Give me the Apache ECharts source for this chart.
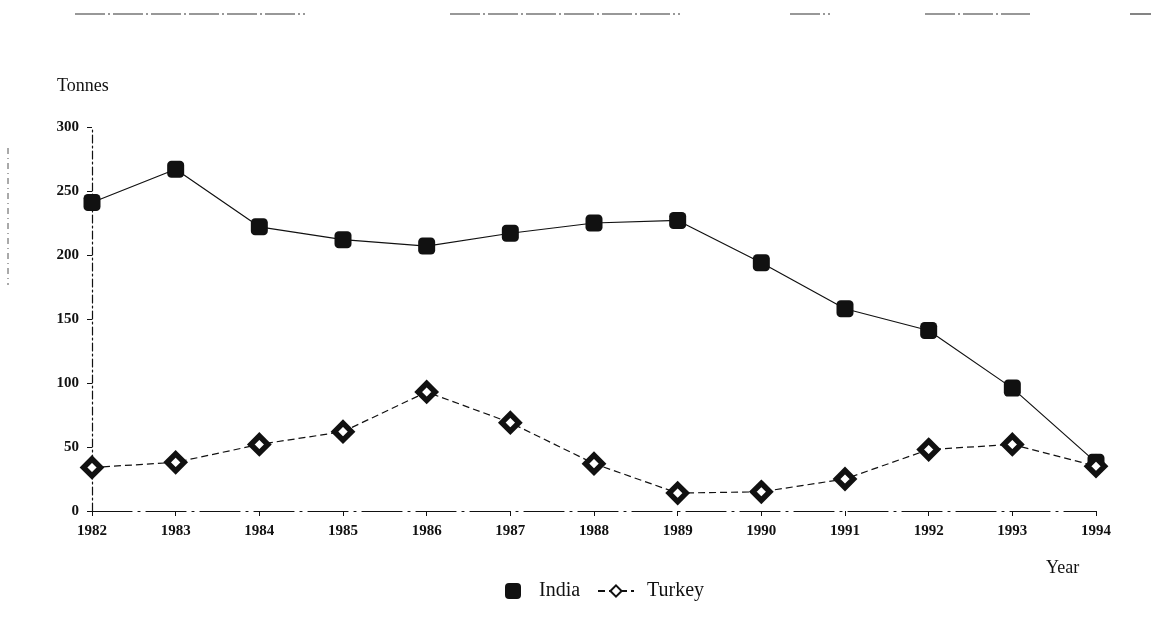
<!DOCTYPE html>
<html>
<head>
<meta charset="utf-8">
<script src="https://cdn.jsdelivr.net/npm/echarts@6/dist/echarts.min.js"></script>
<style>
  html, body { margin: 0; padding: 0; background: #fff; }
  #chart { width: 1151px; height: 636px; }
</style>
</head>
<body>
<div id="chart"></div>
<script>
// data
const years = ["1982", "1983", "1984", "1985", "1986", "1987", "1988", "1989", "1990", "1991", "1992", "1993", "1994"]
const india = [241, 267, 222, 212, 207, 217, 225, 227, 194, 158, 141, 96, 38]
const turkey = [34, 38, 52, 62, 93, 69, 37, 14, 15, 25, 48, 52, 35]
const yTicks = [0, 50, 100, 150, 200, 250, 300]

const serif = "Liberation Serif"
const ink = "#111"

const chart = echarts.init(document.getElementById("chart"))

// scan artefacts: broken rule along the top and a faint line on the left
const topRule = [[75, 305], [450, 680], [790, 830], [925, 1030], [1130, 1151]]
const artefacts = topRule.map(([a, b]) => ({
  type: "line",
  shape: { x1: a, y1: 14, x2: b, y2: 14 },
  style: { stroke: "#333", lineWidth: 1.2, lineDash: [30, 3, 2, 3] },
}))
artefacts.push({
  type: "line",
  shape: { x1: 8, y1: 148, x2: 8, y2: 285 },
  style: { stroke: "#555", lineWidth: 1, lineDash: [6, 4, 1, 4] },
})

const option = {
  backgroundColor: "#fff",
  animation: false,
  textStyle: { fontFamily: serif, color: ink },
  title: [
    { text: "Tonnes", left: 52, top: 72, textStyle: { fontFamily: serif, fontSize: 18, fontWeight: 500, color: ink } },
    { text: "Year", left: 1041, top: 554, textStyle: { fontFamily: serif, fontSize: 18, fontWeight: 500, color: ink } },
  ],
  legend: [
    {
      data: [{ name: "India", icon: "roundRect" }],
      left: 500,
      top: 576,
      itemWidth: 16,
      itemHeight: 16,
      textStyle: { fontFamily: serif, fontSize: 20, color: ink, padding: [0, 0, 0, 13] },
    },
    {
      data: ["Turkey"],
      left: 592,
      top: 576,
      itemWidth: 36,
      itemHeight: 14,
      textStyle: { fontFamily: serif, fontSize: 20, color: ink, padding: [0, 0, 0, 8] },
    },
  ],
  grid: { left: 92, right: 55, top: 127, bottom: 125 },
  xAxis: {
    type: "category",
    data: years,
    boundaryGap: false,
    axisLine: { lineStyle: { color: ink, width: 1.2, type: [40, 6, 2, 6] } },
    axisTick: { show: true, length: 5, lineStyle: { color: ink } },
    axisLabel: { fontFamily: serif, fontSize: 15, fontWeight: "bold", color: ink, margin: 13 },
    splitLine: { show: false },
  },
  yAxis: {
    type: "value",
    min: yTicks[0],
    max: yTicks[yTicks.length - 1],
    interval: 50,
    axisLine: { show: true, lineStyle: { color: ink, width: 1.2, type: [8, 3, 2, 3] } },
    axisTick: { show: true, length: 5, lineStyle: { color: ink } },
    axisLabel: { fontFamily: serif, fontSize: 15, fontWeight: "bold", color: ink, margin: 13 },
    splitLine: { show: false },
  },
  series: [
    {
      name: "India",
      type: "line",
      data: india,
      symbol: "roundRect",
      symbolSize: 17,
      itemStyle: { color: ink },
      lineStyle: { color: ink, width: 1.2 },
    },
    {
      name: "Turkey",
      type: "line",
      data: turkey,
      symbol: "diamond",
      symbolSize: 17,
      itemStyle: { color: "#fff", borderColor: ink, borderWidth: 5.5 },
      lineStyle: { color: ink, width: 1.2, type: [7, 4] },
    },
  ],
  graphic: artefacts,
}

chart.setOption(option)
</script>
</body>
</html>
